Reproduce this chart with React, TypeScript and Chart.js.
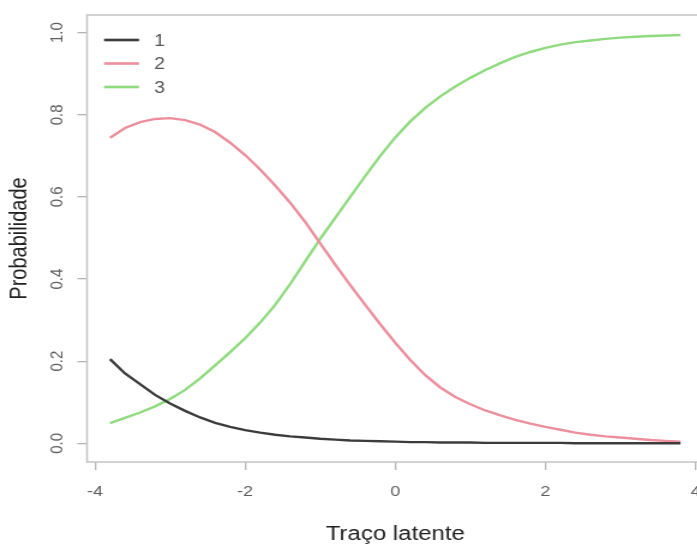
import { useEffect, useRef } from "react";
import { Chart, registerables } from "chart.js";

Chart.register(...registerables);

// Latent trait grid (x) and category probabilities
const xValues = [
  -3.8, -3.6, -3.4, -3.2, -3.0, -2.8, -2.6, -2.4, -2.2, -2.0,
  -1.8, -1.6, -1.4, -1.2, -1.0, -0.8, -0.6, -0.4, -0.2, 0.0,
  0.2, 0.4, 0.6, 0.8, 1.0, 1.2, 1.4, 1.6, 1.8, 2.0,
  2.2, 2.4, 2.6, 2.8, 3.0, 3.2, 3.4, 3.6, 3.8,
];

const category1 = [
  0.205, 0.170, 0.144, 0.118, 0.097, 0.079, 0.063, 0.050, 0.040, 0.032,
  0.026, 0.021, 0.017, 0.014, 0.011, 0.009, 0.007, 0.006, 0.005, 0.004,
  0.003, 0.003, 0.002, 0.002, 0.002, 0.001, 0.001, 0.001, 0.001, 0.001,
  0.001, 0.000, 0.000, 0.000, 0.000, 0.000, 0.000, 0.000, 0.000,
];

const category2 = [
  0.744, 0.768, 0.782, 0.790, 0.792, 0.787, 0.776, 0.758, 0.732, 0.702,
  0.667, 0.628, 0.586, 0.539, 0.487, 0.435, 0.385, 0.337, 0.290, 0.245,
  0.203, 0.166, 0.136, 0.113, 0.095, 0.080, 0.068, 0.057, 0.048, 0.040,
  0.033, 0.026, 0.021, 0.017, 0.014, 0.011, 0.008, 0.006, 0.004,
];

const category3 = [
  0.049, 0.062, 0.075, 0.090, 0.108, 0.130, 0.158, 0.190, 0.222, 0.256,
  0.294, 0.337, 0.388, 0.443, 0.498, 0.549, 0.600, 0.651, 0.700, 0.745,
  0.784, 0.817, 0.845, 0.869, 0.890, 0.909, 0.926, 0.941, 0.953, 0.963,
  0.971, 0.977, 0.981, 0.985, 0.988, 0.990, 0.992, 0.993, 0.994,
];

const seriesLabels = ["1", "2", "3"];
const seriesColors = ["#3c3c3c", "#EC8E9C", "#8EDB7E"];

const xTicks = [-4, -2, 0, 2, 4];
const yTicks = [0.0, 0.2, 0.4, 0.6, 0.8, 1.0];

const xTitle = "Traço latente";
const yTitle = "Probabilidade";

// Layout (logical canvas units; the canvas is stretched horizontally)
const STRETCH = 1.2;
const W = 600;
const H = 546;
const FONT = '"Liberation Sans", Arial, Helvetica, sans-serif';

const decorPlugin = {
  id: "decor",
  afterDraw(chart: any) {
    const { ctx, chartArea: a, scales } = chart;
    ctx.save();
    // plot box
    ctx.strokeStyle = "#c4c4c4";
    ctx.lineWidth = 1.5;
    ctx.strokeRect(a.left, a.top, a.right - a.left, a.bottom - a.top);

    // y tick labels (rotated, parallel to the axis)
    const ys = scales.y;
    ctx.fillStyle = "#5e5e5e";
    ctx.font = `15px ${FONT}`;
    ctx.textAlign = "center";
    ctx.textBaseline = "middle";
    ys.ticks.forEach((t: any) => {
      const py = ys.getPixelForValue(t.value);
      ctx.save();
      ctx.translate(a.left - 24.2, py);
      ctx.rotate(-Math.PI / 2);
      ctx.fillText(Number(t.value).toFixed(1), 0, 0);
      ctx.restore();
    });

    // legend (top-left, no box)
    ctx.font = `16px ${FONT}`;
    ctx.textAlign = "left";
    chart.data.datasets.forEach((ds: any, i: number) => {
      const y = a.top + 25 + i * 23.5;
      ctx.strokeStyle = ds.borderColor;
      ctx.lineWidth = 2.6;
      ctx.beginPath();
      ctx.moveTo(a.left + 14.2, y);
      ctx.lineTo(a.left + 43.3, y);
      ctx.stroke();
      ctx.fillStyle = "#555555";
      ctx.fillText(ds.label, a.left + 56, y + 1.5);
    });
    ctx.restore();
  },
};

export default function App() {
  const canvasRef = useRef<HTMLCanvasElement | null>(null);

  useEffect(() => {
    const canvas = canvasRef.current;
    if (!canvas) return;
    const seriesValues = [category1, category2, category3];
    const chart = new Chart(canvas, {
      type: "line",
      data: {
        datasets: seriesValues.map((vals, i) => ({
          label: seriesLabels[i],
          data: xValues.map((x, j) => ({ x, y: vals[j] })),
          borderColor: seriesColors[i],
          backgroundColor: seriesColors[i],
          borderWidth: 2.4,
          pointRadius: 0,
          tension: 0,
          fill: false,
        })),
      },
      options: {
        responsive: false,
        animation: false,
        devicePixelRatio: 1,
        layout: { padding: { left: 0, right: 13.75, top: 15, bottom: 0 } },
        plugins: {
          legend: { display: false },
          tooltip: { enabled: false },
        },
        scales: {
          x: {
            type: "linear",
            min: -4.1066,
            max: 4.1066,
            afterBuildTicks: (scale: any) => {
              scale.ticks = xTicks.map((v) => ({ value: v }));
            },
            afterFit: (scale: any) => {
              scale.height = 84;
            },
            border: { display: false },
            grid: {
              drawOnChartArea: false,
              drawTicks: true,
              tickLength: 8,
              color: "#b4b4b4",
              lineWidth: 1.3,
            },
            ticks: {
              padding: 13,
              color: "#5e5e5e",
              font: { family: FONT, size: 15 },
              maxRotation: 0,
              minRotation: 0,
              callback: (v: any) => String(v),
            },
            title: {
              display: true,
              text: xTitle,
              color: "#222222",
              font: { family: FONT, size: 20 },
              padding: { top: 0, bottom: 0 },
            },
          },
          y: {
            type: "linear",
            min: -0.0455,
            max: 1.0431,
            afterBuildTicks: (scale: any) => {
              scale.ticks = yTicks.map((v) => ({ value: v }));
            },
            afterFit: (scale: any) => {
              scale.width = 72.5;
            },
            border: { display: false },
            grid: {
              drawOnChartArea: false,
              drawTicks: true,
              tickLength: 8,
              color: "#b4b4b4",
              lineWidth: 1.3,
            },
            ticks: { display: false },
            title: {
              display: true,
              text: yTitle,
              color: "#222222",
              font: { family: FONT, size: 20 },
              padding: { top: 4.7, bottom: 0 },
            },
          },
        },
      },
      plugins: [decorPlugin],
    });
    return () => chart.destroy();
  }, []);

  return (
    <div
      style={{
        position: "absolute",
        left: 0,
        top: 0,
        width: 697,
        height: 546,
        overflow: "hidden",
        background: "#ffffff",
      }}
    >
      <div
        style={{
          width: W,
          height: H,
          transform: `scaleX(${STRETCH})`,
          transformOrigin: "0 0",
        }}
      >
        <canvas
          ref={canvasRef}
          width={W}
          height={H}
          style={{ width: W, height: H, display: "block" }}
        />
      </div>
    </div>
  );
}
